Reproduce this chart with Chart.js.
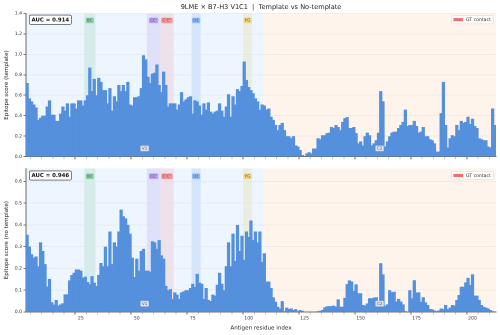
<!DOCTYPE html>
<html>
<head>
<meta charset="utf-8">
<script src="https://cdn.jsdelivr.net/npm/chart.js@4.4.1/dist/chart.umd.min.js"></script>
<style>
    body { margin: 0; background: #fff; width: 500px; height: 335px; overflow: hidden; position: relative; font-family: "DejaVu Sans", sans-serif; }
    #title { position: absolute; top: 3px; left: 26px; width: 470px; text-align: center; font-size: 6.6px; line-height: 8px; color: #222; white-space: pre; }
    #top-chart { position: absolute; left: 0; top: 0; width: 500px; height: 163px; }
    #bottom-chart { position: absolute; left: 0; top: 163px; width: 500px; height: 172px; }
</style>
</head>
<body>
<canvas id="top-chart" width="500" height="163"></canvas>
<canvas id="bottom-chart" width="500" height="172"></canvas>
<div id="title">9LME × B7-H3 V1C1  |  Template vs No-template</div>

<script>
// Epitope score per antigen residue (1..210)
const template_score = [
    0.72, 0.57, 0.54, 0.51, 0.48, 0.36, 0.38, 0.40, 0.40, 0.49,
    0.55, 0.41, 0.41, 0.35, 0.35, 0.42, 0.49, 0.45, 0.52, 0.39,
    0.52, 0.52, 0.47, 0.55, 0.55, 0.50, 0.55, 0.60, 0.87, 0.64,
    0.76, 0.60, 0.77, 0.73, 0.65, 0.65, 0.52, 0.67, 0.45, 0.59,
    0.54, 0.70, 0.64, 0.70, 0.64, 0.73, 0.51, 0.50, 0.58, 0.58,
    0.59, 0.67, 0.99, 0.95, 0.78, 0.72, 0.81, 0.82, 0.90, 0.70,
    0.63, 0.83, 0.70, 0.49, 0.52, 0.52, 0.52, 0.46, 0.51, 0.63,
    0.54, 0.56, 0.58, 0.59, 0.42, 0.55, 0.54, 0.50, 0.41, 0.52,
    0.46, 0.53, 0.44, 0.42, 0.44, 0.45, 0.52, 0.45, 0.39, 0.49,
    0.61, 0.39, 0.59, 0.51, 0.66, 0.64, 0.69, 0.93, 0.75, 0.68,
    0.65, 0.62, 0.57, 0.54, 0.46, 0.51, 0.50, 0.46, 0.47, 0.39,
    0.36, 0.31, 0.26, 0.31, 0.33, 0.26, 0.20, 0.20, 0.18, 0.20,
    0.11, 0.10, 0.065, 0.016, 0.0, 0.033, 0.043, 0.033, 0.08, 0.08,
    0.18, 0.17, 0.21, 0.21, 0.23, 0.235, 0.29, 0.28, 0.31, 0.29,
    0.26, 0.34, 0.376, 0.386, 0.28, 0.28, 0.29, 0.23, 0.13, 0.15,
    0.11, 0.20, 0.235, 0.21, 0.11, 0.13, 0.16, 0.235, 0.64, 0.54,
    0.10, 0.15, 0.20, 0.235, 0.245, 0.245, 0.28, 0.31, 0.34, 0.46,
    0.30, 0.31, 0.31, 0.35, 0.30, 0.235, 0.245, 0.29, 0.20, 0.20,
    0.17, 0.16, 0.13, 0.05, 0.05, 0.425, 0.73, 0.31, 0.09, 0.18,
    0.21, 0.20, 0.31, 0.26, 0.35, 0.33, 0.34, 0.39, 0.32, 0.37,
    0.30, 0.28, 0.18, 0.17, 0.16, 0.16, 0.10, 0.09, 0.47, 0.31
];

const no_template_score = [
    0.355, 0.30, 0.265, 0.25, 0.255, 0.21, 0.32, 0.28, 0.22, 0.117,
    0.152, 0.045, 0.034, 0.055, 0.03, 0.035, 0.04, 0.081, 0.081, 0.145,
    0.17, 0.18, 0.195, 0.195, 0.19, 0.158, 0.162, 0.138, 0.128, 0.165,
    0.135, 0.12, 0.17, 0.225, 0.21, 0.30, 0.21, 0.37, 0.22, 0.32,
    0.30, 0.37, 0.47, 0.44, 0.43, 0.40, 0.36, 0.25, 0.16, 0.245,
    0.19, 0.28, 0.29, 0.19, 0.19, 0.185, 0.325, 0.32, 0.29, 0.33,
    0.26, 0.245, 0.12, 0.10, 0.105, 0.06, 0.09, 0.08, 0.06, 0.09,
    0.095, 0.10, 0.10, 0.11, 0.13, 0.115, 0.175, 0.135, 0.13, 0.06,
    0.11, 0.055, 0.05, 0.08, 0.075, 0.125, 0.18, 0.13, 0.10, 0.21,
    0.32, 0.21, 0.36, 0.235, 0.40, 0.28, 0.35, 0.24, 0.37, 0.345,
    0.42, 0.33, 0.37, 0.32, 0.37, 0.23, 0.27, 0.14, 0.14, 0.11,
    0.067, 0.047, 0.024, 0.016, 0.05, 0.004, 0.02, 0.014, 0.016, 0.009,
    0.013, 0.004, 0.009, 0.006, 0.002, 0.001, 0.0, 0.0, 0.001, 0.001,
    0.004, 0.006, 0.009, 0.021, 0.026, 0.027, 0.027, 0.029, 0.024, 0.058,
    0.024, 0.024, 0.065, 0.128, 0.145, 0.14, 0.097, 0.127, 0.086, 0.086,
    0.032, 0.029, 0.039, 0.063, 0.063, 0.066, 0.068, 0.039, 0.224, 0.173,
    0.029, 0.035, 0.10, 0.09, 0.093, 0.048, 0.06, 0.048, 0.035, 0.004,
    0.0, 0.10, 0.063, 0.146, 0.09, 0.09, 0.047, 0.068, 0.044, 0.032,
    0.014, 0.012, 0.007, 0.004, 0.007, 0.016, 0.013, 0.032, 0.013, 0.02,
    0.032, 0.03, 0.055, 0.078, 0.116, 0.116, 0.136, 0.157, 0.124, 0.173,
    0.075, 0.075, 0.055, 0.032, 0.024, 0.02, 0.016, 0.009, 0.004, 0.001
];

const residues = [];
for (let i = 1; i <= template_score.length; i ++) {
    residues.push(i);
}

// Ig domains and loops (residue ranges)
const domain_names = ["V1", "C2"];
const domain_start = [1, 107];
const domain_end = [106, 210];

const loop_names = ["BC", "CC'", "C'C''", "DE", "FG"];
const loop_start = [27, 55, 61, 75, 98];
const loop_end = [31, 60, 66, 78, 101];

const auc_values = ["0.914", "0.946"];
const legend_label = "GT contact";

// colours
const bar_colour = "#5590dd";
const domain_fill = ["rgba(215,232,252,0.45)", "rgba(252,228,205,0.4)"];
const loop_fill = ["rgba(120,200,160,0.2)", "rgba(160,130,230,0.18)", "rgba(235,130,140,0.17)", "rgba(120,175,245,0.22)", "rgba(225,205,110,0.22)"];
const loop_box = ["rgba(120,200,150,0.75)", "rgba(175,140,235,0.75)", "rgba(240,130,130,0.75)", "rgba(130,175,240,0.75)", "rgba(240,205,110,0.8)"];
const loop_text = ["#245c3a", "#4b2d84", "#7a1f1f", "#1f4a86", "#6b5310"];

function box(ctx, x, y, w, h, r) {
    ctx.beginPath();
    ctx.moveTo(x + r, y);
    ctx.lineTo(x + w - r, y);
    ctx.arcTo(x + w, y, x + w, y + r, r);
    ctx.lineTo(x + w, y + h - r);
    ctx.arcTo(x + w, y + h, x + w - r, y + h, r);
    ctx.lineTo(x + r, y + h);
    ctx.arcTo(x, y + h, x, y + h - r, r);
    ctx.lineTo(x, y + r);
    ctx.arcTo(x, y, x + r, y, r);
    ctx.closePath();
}

const overlay = {
    id: "overlay",
    beforeDraw(chart) {
        const ctx = chart.ctx;
        const a = chart.chartArea;
        const x = chart.scales.x;
        ctx.save();
        ctx.beginPath();
        ctx.rect(a.left, a.top, a.right - a.left, a.bottom - a.top);
        ctx.clip();
        for (let i = 0; i < domain_names.length; i ++) {
            const x0 = x.getPixelForValue(domain_start[i] - 0.5);
            const x1 = x.getPixelForValue(domain_end[i] + 0.5);
            ctx.fillStyle = domain_fill[i];
            ctx.fillRect(x0, a.top, x1 - x0, a.bottom - a.top);
        }
        for (let i = 0; i < loop_names.length; i ++) {
            const x0 = x.getPixelForValue(loop_start[i] - 0.5);
            const x1 = x.getPixelForValue(loop_end[i] + 0.5);
            ctx.fillStyle = loop_fill[i];
            ctx.fillRect(x0, a.top, x1 - x0, a.bottom - a.top);
        }
        ctx.restore();
    },
    afterDraw(chart, args, opts) {
        const ctx = chart.ctx;
        const a = chart.chartArea;
        const x = chart.scales.x;
        ctx.save();
        ctx.textBaseline = "middle";
        ctx.textAlign = "center";

        // loop labels
        ctx.font = '4px "DejaVu Sans"';
        for (let i = 0; i < loop_names.length; i ++) {
            const cx = x.getPixelForValue((loop_start[i] + loop_end[i]) / 2);
            const w = ctx.measureText(loop_names[i]).width + 2.6;
            box(ctx, cx - w / 2, a.top + opts.loopY - 2.8, w, 5.6, 0.8);
            ctx.fillStyle = loop_box[i];
            ctx.fill();
            ctx.fillStyle = loop_text[i];
            ctx.fillText(loop_names[i], cx, a.top + opts.loopY + 0.2);
        }

        // domain labels
        for (let i = 0; i < domain_names.length; i ++) {
            const cx = x.getPixelForValue((domain_start[i] + domain_end[i]) / 2);
            const w = ctx.measureText(domain_names[i]).width + 3;
            box(ctx, cx - w / 2, a.bottom - opts.domainY - 2.8, w, 5.6, 0.6);
            ctx.fillStyle = "rgba(228,232,238,0.95)";
            ctx.fill();
            ctx.strokeStyle = "#a9afb8";
            ctx.lineWidth = 0.4;
            ctx.stroke();
            ctx.fillStyle = "#555c66";
            ctx.fillText(domain_names[i], cx, a.bottom - opts.domainY + 0.2);
        }

        // AUC box
        ctx.font = 'bold 5.4px "DejaVu Sans"';
        ctx.textAlign = "left";
        const txt = "AUC = " + opts.auc;
        const tw = ctx.measureText(txt).width;
        box(ctx, a.left + 3.3, a.top + opts.aucY - 4.6, tw + 4.4, 9.2, 1.6);
        ctx.fillStyle = "#fff";
        ctx.fill();
        ctx.strokeStyle = "#333";
        ctx.lineWidth = 0.6;
        ctx.stroke();
        ctx.fillStyle = "#111";
        ctx.fillText(txt, a.left + 5.5, a.top + opts.aucY + 0.3);

        // legend
        ctx.font = '4.6px "DejaVu Sans"';
        const lw = ctx.measureText(legend_label).width;
        const lx1 = a.right - 2.7;
        const lx0 = lx1 - lw - 17;
        box(ctx, lx0, a.top + opts.aucY - 4.2, lx1 - lx0, 8.4, 1.2);
        ctx.fillStyle = "rgba(255,255,255,0.85)";
        ctx.fill();
        ctx.strokeStyle = "#d6d6d6";
        ctx.lineWidth = 0.5;
        ctx.stroke();
        ctx.fillStyle = "#ee6f6f";
        ctx.fillRect(lx0 + 2, a.top + opts.aucY - 1.6, 9.6, 3.2);
        ctx.fillStyle = "#333";
        ctx.fillText(legend_label, lx0 + 14.5, a.top + opts.aucY + 0.2);

        ctx.restore();
    }
};

function makeChart(canvas_id, values, y_max, y_step, y_title, show_x, pad_top, x_height, auc, loop_y, auc_y) {
    const points = [];
    for (let i = 0; i < residues.length; i ++) {
        points.push({x: residues[i], y: values[i]});
    }

    const config = {
        type: "bar",
        data: {
            datasets: [{
                data: points,
                backgroundColor: bar_colour,
                borderWidth: 0,
                inflateAmount: 0,
                barPercentage: 1.45,     // overlap so anti-aliasing seams vanish at 2x
                categoryPercentage: 1
            }]
        },
        options: {
            responsive: false,
            animation: false,
            devicePixelRatio: 2,        // draw at 2x, browser averages down
            layout: {
                padding: {top: pad_top, right: 4, left: 0, bottom: 0}
            },
            plugins: {
                legend: {display: false},
                tooltip: {enabled: false},
                overlay: {auc: auc, loopY: loop_y, aucY: auc_y, domainY: 8.3}
            },
            scales: {
                x: {
                    type: "linear",
                    min: 0.5,
                    max: 210.5,
                    offset: false,
                    afterBuildTicks: (scale) => {
                        const t = [];
                        for (let v = 5; v <= 210; v += 5) t.push({value: v});
                        scale.ticks = t;
                    },
                    afterFit: (scale) => { scale.height = x_height; },
                    ticks: {
                        autoSkip: false,
                        maxRotation: 0,
                        padding: 1.2,
                        color: "#333",
                        font: {family: "DejaVu Sans", size: 4.6},
                        callback: (v) => (show_x && v % 25 === 0) ? v : ""
                    },
                    grid: {
                        drawOnChartArea: false,
                        tickLength: 2.5,
                        tickColor: (c) => (c.tick && c.tick.value % 25 === 0) ? "#444" : "#888",
                        tickWidth: (c) => (c.tick && c.tick.value % 25 === 0) ? 0.8 : 0.5
                    },
                    border: {color: "#444", width: 0.8},
                    title: {
                        display: show_x,
                        text: "Antigen residue index",
                        color: "#222",
                        font: {family: "DejaVu Sans", size: 5.6},
                        padding: {top: 0, bottom: 3.6}
                    }
                },
                y: {
                    min: 0,
                    max: y_max,
                    afterFit: (scale) => { scale.width = 26; },
                    ticks: {
                        stepSize: y_step,
                        includeBounds: false,
                        padding: 1.4,
                        color: "#333",
                        font: {family: "DejaVu Sans", size: 4.6},
                        callback: (v) => v.toFixed(1)
                    },
                    grid: {
                        color: "#e4e4e4",
                        lineWidth: 0.6,
                        tickLength: 2.5,
                        tickColor: "#444",
                        tickWidth: 0.7
                    },
                    border: {color: "#444", width: 0.8},
                    title: {
                        display: true,
                        text: y_title,
                        color: "#222",
                        font: {family: "DejaVu Sans", size: 5.6},
                        padding: {top: 3.2, bottom: 0}
                    }
                }
            }
        },
        plugins: [overlay]
    };

    const ctx = document.getElementById(canvas_id).getContext("2d");
    return new Chart(ctx, config);
}

makeChart("top-chart", template_score, 1.4, 0.2, "Epitope score (template)", false, 13.3, 6.3, auc_values[0], 7.2, 6.4);
makeChart("bottom-chart", no_template_score, 0.66, 0.1, "Epitope score (no template)", true, 5.3, 23, auc_values[1], 8.0, 7.2);
</script>
</body>
</html>
